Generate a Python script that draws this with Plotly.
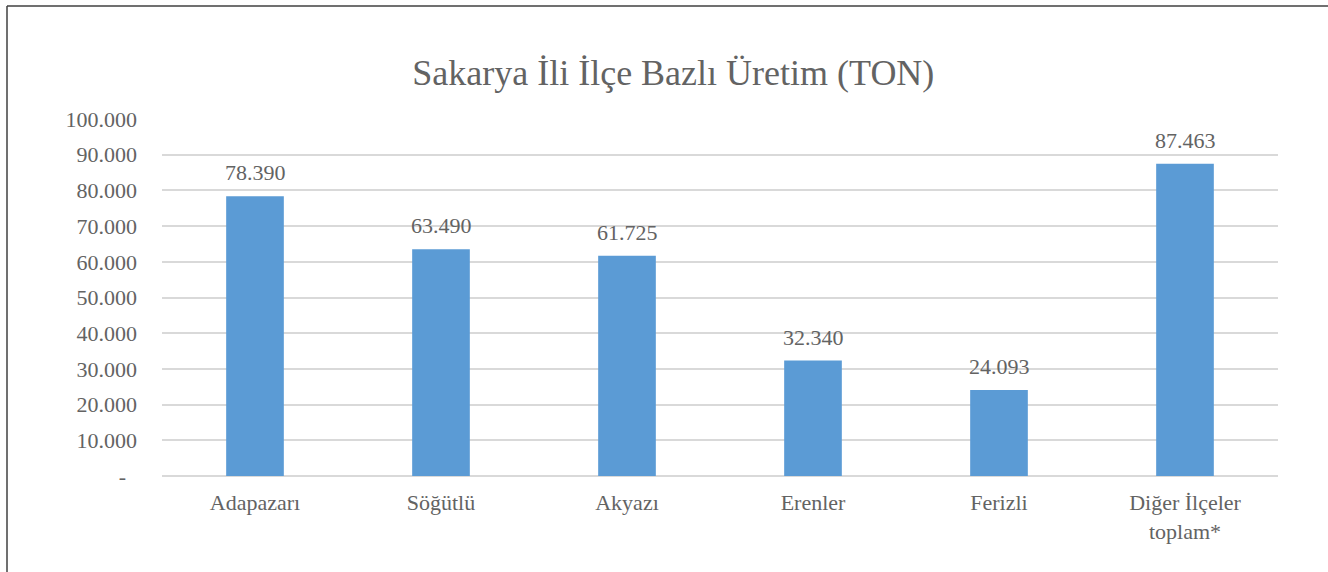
import plotly.graph_objects as go

categories = ["Adapazarı", "Söğütlü", "Akyazı", "Erenler", "Ferizli", "Diğer İlçeler<br>toplam*"]
values = [78390, 63490, 61725, 32340, 24093, 87463]
tick_vals = [0, 10000, 20000, 30000, 40000, 50000, 60000, 70000, 80000, 90000, 100000]
tick_text = ["-\u00a0\u00a0", "10.000", "20.000", "30.000", "40.000", "50.000",
             "60.000", "70.000", "80.000", "90.000", "100.000"]
title_text = "Sakarya İli İlçe Bazlı Üretim (TON)"

FONT = "Liberation Serif, Times New Roman, serif"
GRAY = "#636363"

W, H = 1328, 572
ML, MR, MT, MB = 162, 50, 119, 96
PW, PH = W - ML - MR, H - MT - MB

def fmt(v):
    return f"{v:,}".replace(",", ".")

fig = go.Figure()
fig.add_trace(go.Bar(
    x=categories, y=values,
    marker=dict(color="#5B9BD5", line=dict(width=0)),
    hoverinfo="x+y",
))

for c, v in zip(categories, values):
    fig.add_annotation(
        x=c, y=v, xref="x", yref="y",
        text=fmt(v), showarrow=False,
        yanchor="bottom", yshift=9,
        font=dict(family=FONT, size=22, color=GRAY),
    )

# outer border (px -> paper)
def px_x(p):
    return (p - ML) / PW

def px_y(p):
    return (H - MB - p) / PH

x0, x1 = px_x(7), px_x(1330)
y0, y1 = px_y(580), px_y(6)
for (a, b, c, d) in [(x0, y1, x1, y1), (x0, y0, x0, y1)]:
    fig.add_shape(type="line", xref="paper", yref="paper",
                  x0=a, y0=b, x1=c, y1=d,
                  line=dict(color="#404040", width=1.5))

fig.update_layout(
    width=W, height=H,
    margin=dict(l=ML, r=MR, t=MT, b=MB),
    paper_bgcolor="white", plot_bgcolor="white",
    bargap=0.69,
    showlegend=False,
    title=dict(text=title_text, x=0.507, xanchor="center", y=1 - 72 / H, yanchor="middle",
               font=dict(family=FONT, size=36, color=GRAY)),
    font=dict(family=FONT, size=22, color=GRAY),
)
fig.update_yaxes(
    range=[0, 100000], tickvals=tick_vals, ticktext=tick_text,
    showgrid=True, gridcolor="#D9D9D9", gridwidth=1.5,
    zeroline=True, zerolinecolor="#D9D9D9", zerolinewidth=1.5,
    showline=False, ticks="", ticklabelstandoff=24,
    tickfont=dict(family=FONT, size=22, color=GRAY),
)
fig.update_xaxes(
    showgrid=False, showline=False, ticks="",
    tickfont=dict(family=FONT, size=22, color=GRAY),
    ticklabelstandoff=11,
)

fig.write_html("out.html", config={"displayModeBar": False},
               post_script="document.body.style.margin='0';document.body.style.overflow='hidden';")
